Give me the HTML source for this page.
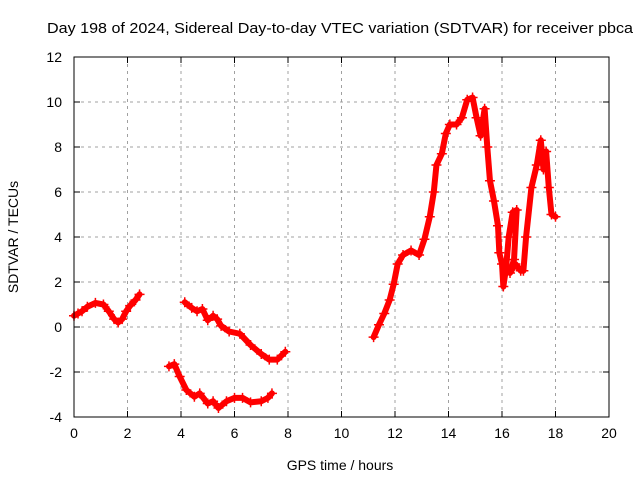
<!DOCTYPE html>
<html><head><meta charset="utf-8"><style>
body{margin:0;background:#fff}
svg{display:block;font-family:"Liberation Sans",sans-serif}
</style></head><body>
<svg id="chart" width="640" height="480">
<rect width="640" height="480" fill="#fff"/>
<text x="340" y="33" font-size="15" text-anchor="middle" textLength="586" lengthAdjust="spacingAndGlyphs">Day 198 of 2024, Sidereal Day-to-day VTEC variation (SDTVAR) for receiver pbca</text>
<g id="grid"></g><g id="series"></g><g id="axes"></g>
<text x="340" y="470" font-size="14" text-anchor="middle">GPS time / hours</text>
<text x="18" y="237" font-size="14" text-anchor="middle" transform="rotate(-90 18 237)">SDTVAR / TECUs</text>
</svg>
<script>
const xTicks=[0,2,4,6,8,10,12,14,16,18,20];
const yTicks=[-4,-2,0,2,4,6,8,10,12];
const seg1=[[0,0.5],[0.15,0.6],[0.3,0.7],[0.5,0.9],[0.8,1.07],[1.1,1.0],[1.3,0.7],[1.5,0.35],[1.65,0.2],[1.8,0.35],[1.95,0.7],[2.1,0.95],[2.3,1.2],[2.45,1.45]];
const seg2=[[4.14,1.1],[4.4,0.85],[4.6,0.7],[4.8,0.8],[5.0,0.3],[5.2,0.5],[5.35,0.35],[5.5,0.05],[5.8,-0.2],[6.2,-0.3],[6.6,-0.8],[7.0,-1.2],[7.3,-1.45],[7.6,-1.45],[7.9,-1.1]];
const seg3=[[3.55,-1.75],[3.75,-1.65],[3.95,-2.2],[4.2,-2.8],[4.5,-3.1],[4.7,-2.95],[5.0,-3.4],[5.2,-3.3],[5.4,-3.6],[5.7,-3.3],[6.0,-3.15],[6.3,-3.15],[6.6,-3.35],[7.0,-3.3],[7.25,-3.15],[7.4,-2.95]];
const seg4=[[11.2,-0.45],[11.4,0.1],[11.6,0.6],[11.8,1.2],[11.95,1.9],[12.1,2.8],[12.3,3.2],[12.6,3.4],[12.9,3.2],[13.1,3.9],[13.3,4.9],[13.45,6.0],[13.55,7.2],[13.75,7.7],[13.9,8.6],[14.05,9.0],[14.3,9.0],[14.5,9.3],[14.7,10.1],[14.9,10.2],[15.05,9.3],[15.2,8.5],[15.35,9.7],[15.45,8.0],[15.55,6.5],[15.7,5.6],[15.85,4.5],[15.9,3.3],[16.0,2.8],[16.05,1.8],[16.15,2.6],[16.25,4.0],[16.4,5.1],[16.55,5.2],[16.45,3.0],[16.3,2.4],[16.5,2.8],[16.7,2.5],[16.8,2.5],[16.9,4.0],[17.1,6.2],[17.3,7.2],[17.45,8.3],[17.55,7.0],[17.65,7.8],[17.75,6.2],[17.85,5.0],[18.0,4.9]];
const segments=[seg1,seg2,seg3,seg4];
const X0=74,X1=609,Y0=417,Y1=57;
const xs=h=>X0+(h-0)/(20-0)*(X1-X0);
const ys=v=>Y0-(v+4)/16*(Y0-Y1);
const NS="http://www.w3.org/2000/svg";
function mk(t,a,p){const e=document.createElementNS(NS,t);for(const k in a)e.setAttribute(k,a[k]);p.appendChild(e);return e;}
const grid=document.getElementById('grid'),axes=document.getElementById('axes'),ser=document.getElementById('series');
xTicks.forEach(t=>{const x=xs(t);
 if(t>0&&t<20){const g=mk('line',{x1:x,x2:x,y1:Y1,y2:Y0,stroke:'#a0a0a0','stroke-dasharray':'3,4'},grid);
 
 }
 const l=mk('text',{x:x,y:Y0+21,'font-size':14,'text-anchor':'middle'},axes);l.textContent=t;
 
 
 mk('line',{x1:x,x2:x,y1:Y0,y2:Y0-6,stroke:'#000'},axes);mk('line',{x1:x,x2:x,y1:Y1,y2:Y1+6,stroke:'#000'},axes);});
yTicks.forEach(t=>{const y=ys(t);
 if(t>-4&&t<12){const g=mk('line',{x1:X0,x2:X1,y1:y,y2:y,stroke:'#a0a0a0','stroke-dasharray':'3,4'},grid);
 
 }
 const l=mk('text',{x:X0-12,y:y+5,'font-size':14,'text-anchor':'end'},axes);l.textContent=t;
 
 
 mk('line',{x1:X0,x2:X0+6,y1:y,y2:y,stroke:'#000'},axes);mk('line',{x1:X1,x2:X1-6,y1:y,y2:y,stroke:'#000'},axes);});
const fr=mk('rect',{x:X0,y:Y1,width:X1-X0,height:Y0-Y1,fill:'none',stroke:'#000'},axes);


segments.forEach((s,i)=>{
 const pl=mk('polyline',{points:s.map(p=>xs(p[0])+','+ys(p[1])).join(' '),fill:'none',stroke:'#ff0000','stroke-width':6,'stroke-linejoin':'round','stroke-linecap':'round'},ser);
 
 
 s.forEach(p=>{const x=xs(p[0]),y=ys(p[1]);
  const m=mk('path',{d:`M${x-5},${y}H${x+5}M${x},${y-5}V${y+5}`,stroke:'#ff0000','stroke-width':1.5},ser);
  
  });
});
</script>
</body></html>
